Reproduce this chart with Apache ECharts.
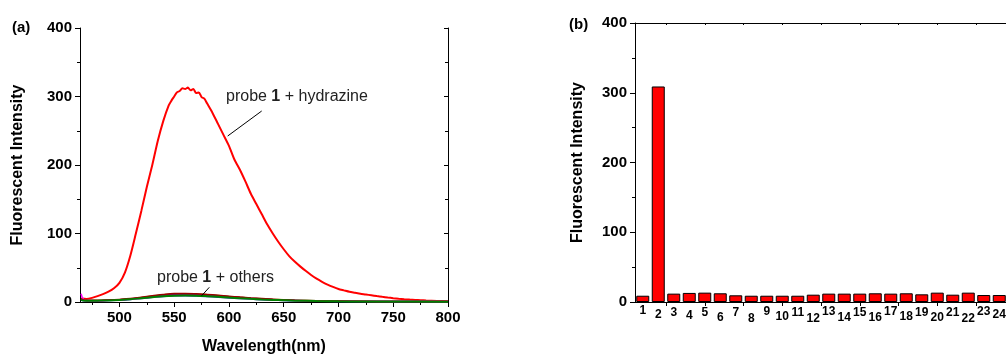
<!DOCTYPE html>
<html>
<head>
<meta charset="utf-8">
<script src="https://cdn.jsdelivr.net/npm/echarts@6/dist/echarts.min.js"></script>
<style>
html,body{margin:0;padding:0;background:#fff;}
#chart{width:1006px;height:356px;}
</style>
</head>
<body>
<div id="chart"></div>
<script>
// ---------- Panel (a): emission spectra ----------
const wlRed = [465,470,475,480,485,490,495,500,505,510,515,520,525,530,535,540,545,
  547.5,550,552.5,555,557.5,560,562.5,565,567.5,570,572.5,575,577.5,580,
  585,590,595,600,605,610,615,620,625,630,635,640,645,650,655,660,665,670,675,680,
  685,690,695,700,705,710,715,720,725,730,735,740,745,750,755,760,765,770,775,780,790,800];
const intRed = [5,4.5,6,8.5,11.5,15,20,28,43,68,100,133,168,200,235,264,287,
  294,300,306,308,312,311,313,309,311,305,306,299,297,290,
  276,260,244,228,208,193,176,158,143,128,113,100,88,77,67,59,52,45.5,39.5,34,
  29.5,25.5,22,19,17,15,13.5,12,11,9.8,8.6,7.5,6.5,5.6,4.8,4.1,3.5,3,2.6,2.2,1.6,1.2];

const wlOthers = [465,467,470,480,490,500,510,520,530,540,550,560,570,580,590,600,610,620,630,640,650,660,680,700,720,750,800];
const othersBlue    = [3,2,1.8,1.8,2.2,2.8,3.8,5.2,6.8,8.2,9,9.2,8.8,8,7,6,5,4.2,3.4,2.8,2.2,1.8,1.2,0.9,0.7,0.5,0.4];
const othersOlive   = [4,2.5,2.2,2.2,2.6,3.4,4.7,6.5,8.6,10.5,11.7,12,11.6,10.7,9.5,8.2,7,5.8,4.8,3.9,3.2,2.6,1.8,1.3,1,0.8,0.6];
const othersMagenta = [12,4,2.2,2,2.4,3,4.2,5.8,7.6,9.2,10.2,10.5,10.2,9.4,8.4,7.2,6.1,5,4.2,3.4,2.8,2.3,1.6,1.4,1.2,1,0.8];
const othersPurple  = [4,2.5,2,2,2.5,3.2,4.5,6.3,8.2,10,11,11.3,10.8,10,9,7.8,6.6,5.5,4.5,3.7,3,2.4,1.6,1.2,0.9,0.7,0.6];
const othersDarkRed = [5,3,2.5,2.5,3,3.8,5,7,9,11,12.3,12.5,12,11,9.8,8.5,7.2,6,5,4,3.3,2.7,1.8,1.3,1,0.8,0.6];
const othersGreen   = [3,2,1.8,2,2.3,3,4,5.5,7,8.5,9.3,9.5,9.2,8.5,7.6,6.5,5.5,4.6,3.8,3.1,2.5,2,1.4,1,0.8,0.6,0.5];

const xMajorTicks = [500,550,600,650,700,750,800];
const xMinorTicks = [475,525,575,625,675,725,775];
const xAllTicks = [475,500,525,550,575,600,625,650,675,700,725,750,775];

// ---------- Panel (b): bar chart ----------
const barCategories = ['1','2','3','4','5','6','7','8','9','10','11','12','13','14','15','16','17','18','19','20','21','22','23','24'];
const barValues = [9,309,12,13,13.4,12.5,9.6,9,9,9,9,10.5,12,12,12,12.5,12,12.5,11,13.4,10.5,13.4,10,10];
const barTickVals = [2.5,5,7.5,10,12.5,15,17.5,20,22.5];

// label vertical stagger (style only)
const labelDrop = [0,4,2,5,2,7,2,8,1,6,2,8,1,7,2,7,1,6,2,7,2,8,1,4];

const FONT = '"Liberation Sans", Arial, sans-serif';
const black = '#000';

const rich = {};
for (let k = 0; k <= 9; k++) {
  rich['d' + k] = {fontSize: 12, fontWeight: 'bold', fontFamily: FONT, color: black, lineHeight: 14 + 2 * k};
}

function line(color, wl, vals, width, z, smooth) {
  return {
    type: 'line', xAxisIndex: 0, yAxisIndex: 0, showSymbol: false, symbol: 'none',
    smooth: smooth,
    data: wl.map((w, i) => [w, vals[i]]),
    lineStyle: {color: color, width: width}, z: z, animation: false
  };
}

const tickLabel = {color: black, fontSize: 15, fontWeight: 'bold', fontFamily: FONT};
const titleStyle = {color: black, fontSize: 16, fontWeight: 'bold', fontFamily: FONT};
const axLine = {show: true, lineStyle: {color: black, width: 1}};

const option = {
  animation: false,
  backgroundColor: '#fff',
  grid: [
    {left: 80, top: 28, width: 368, height: 274, outerBoundsMode: 'none', containLabel: false},
    {left: 80, top: 28, width: 368, height: 274, outerBoundsMode: 'none', containLabel: false},
    {left: 635, top: 23, width: 372, height: 279, outerBoundsMode: 'none', containLabel: false}
  ],
  xAxis: [
    {gridIndex: 0, type: 'value', position: 'bottom', min: 464, max: 800,
      axisLine: axLine,
      axisTick: {show: true, customValues: xMajorTicks, length: 5, lineStyle: {color: black}},
      axisLabel: Object.assign({customValues: xMajorTicks, margin: 8}, tickLabel),
      splitLine: {show: false},
      name: 'Wavelength(nm)', nameLocation: 'middle', nameGap: 37, nameTextStyle: titleStyle},
    {gridIndex: 0, type: 'value', position: 'top', min: 464, max: 800,
      axisLine: axLine,
      axisTick: {show: true, customValues: xAllTicks, inside: true, length: 3, lineStyle: {color: black}},
      axisLabel: {show: false}, splitLine: {show: false}},
    {gridIndex: 1, type: 'value', position: 'bottom', min: 464, max: 800,
      axisLine: {show: false},
      axisTick: {show: true, customValues: xMinorTicks, length: 3, lineStyle: {color: black}},
      axisLabel: {show: false}, splitLine: {show: false}},
    {gridIndex: 2, type: 'value', position: 'bottom', min: 0.5, max: 24.5,
      axisLine: axLine,
      axisTick: {show: true, customValues: barTickVals, length: 4, lineStyle: {color: black}},
      axisLabel: {customValues: barCategories.map((c, i) => i + 1), margin: 2,
        formatter: function (v) { const i = Math.round(v) - 1; return '{d' + labelDrop[i] + '|' + barCategories[i] + '}'; },
        rich: rich},
      splitLine: {show: false}},
    {gridIndex: 2, type: 'value', position: 'top', min: 0.5, max: 24.5,
      axisLine: axLine,
      axisTick: {show: true, customValues: barTickVals, inside: true, length: 2, lineStyle: {color: black}},
      axisLabel: {show: false}, splitLine: {show: false}}
  ],
  yAxis: [
    {gridIndex: 0, type: 'value', position: 'left', min: 0, max: 400, interval: 100,
      axisLine: axLine,
      axisTick: {show: true, length: 5, lineStyle: {color: black}},
      minorTick: {show: true, splitNumber: 2, length: 3, lineStyle: {color: black}},
      axisLabel: Object.assign({margin: 8}, tickLabel),
      splitLine: {show: false},
      name: 'Fluorescent Intensity', nameLocation: 'middle', nameGap: 54, nameTextStyle: titleStyle},
    {gridIndex: 0, type: 'value', position: 'right', min: 0, max: 400, interval: 100,
      axisLine: axLine,
      axisTick: {show: true, inside: true, length: 4, lineStyle: {color: black}},
      minorTick: {show: true, splitNumber: 2, length: 3, lineStyle: {color: black}},
      axisLabel: {show: false}, splitLine: {show: false}},
    {gridIndex: 1, type: 'value', show: false, min: 0, max: 400},
    {gridIndex: 2, type: 'value', position: 'left', min: 0, max: 400, interval: 100,
      axisLine: axLine,
      axisTick: {show: true, length: 5, lineStyle: {color: black}},
      minorTick: {show: true, splitNumber: 2, length: 3, lineStyle: {color: black}},
      axisLabel: Object.assign({margin: 8}, tickLabel),
      splitLine: {show: false},
      name: 'Fluorescent Intensity', nameLocation: 'middle', nameGap: 49, nameTextStyle: titleStyle}
  ],
  series: [
    line('#ff0000', wlRed, intRed, 2, 2, 0.25),
    line('#3333cc', wlOthers, othersBlue, 1.5, 3, 0.4),
    line('#a0a020', wlOthers, othersOlive, 1.5, 3, 0.4),
    line('#ff00ff', wlOthers, othersMagenta, 1.5, 3, 0.4),
    line('#800080', wlOthers, othersPurple, 1.5, 3, 0.4),
    line('#990000', wlOthers, othersDarkRed, 1.5, 3, 0.4),
    line('#008000', wlOthers, othersGreen, 2, 4, 0.4),
    {type: 'bar', xAxisIndex: 3, yAxisIndex: 3, barWidth: 13,
      data: barValues.map((v, i) => [i + 1, v]),
      itemStyle: {color: '#ff0000', borderColor: '#000', borderWidth: 1}}
  ],
  graphic: [
    {type: 'text', x: 12, y: 28, style: {text: '(a)', fontSize: 15, fontWeight: 'bold', fontFamily: FONT, fill: black, align: 'left', verticalAlign: 'middle'}},
    {type: 'text', x: 569, y: 25, style: {text: '(b)', fontSize: 15, fontWeight: 'bold', fontFamily: FONT, fill: black, align: 'left', verticalAlign: 'middle'}},
    {type: 'text', x: 226, y: 97, z: 10, style: {text: 'probe {b|1} + hydrazine', fontSize: 16, fontFamily: FONT, fill: '#222', align: 'left', verticalAlign: 'middle',
      rich: {b: {fontSize: 16, fontFamily: FONT, fontWeight: 'bold', fill: '#222'}}}},
    {type: 'line', z: 10, shape: {x1: 261.7, y1: 111, x2: 227.7, y2: 136}, style: {stroke: black, lineWidth: 1}},
    {type: 'text', x: 157, y: 278, z: 10, style: {text: 'probe {b|1} + others', fontSize: 16, fontFamily: FONT, fill: '#222', align: 'left', verticalAlign: 'middle',
      rich: {b: {fontSize: 16, fontFamily: FONT, fontWeight: 'bold', fill: '#222'}}}},
    {type: 'line', z: 10, shape: {x1: 209.3, y1: 287.3, x2: 201.7, y2: 295.7}, style: {stroke: black, lineWidth: 1}}
  ]
};

const chart = echarts.init(document.getElementById('chart'), null, {renderer: 'canvas'});
chart.setOption(option);
</script>
</body>
</html>
